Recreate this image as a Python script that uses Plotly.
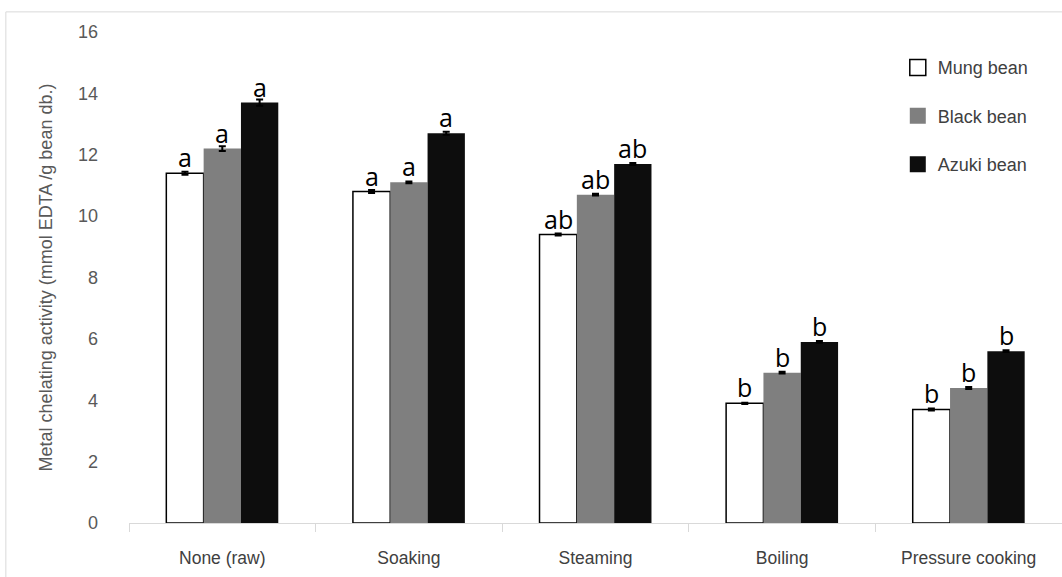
import plotly.graph_objects as go

categories = ["None (raw)", "Soaking", "Steaming", "Boiling", "Pressure cooking"]
series_names = ["Mung bean", "Black bean", "Azuki bean"]
mung = [11.4, 10.8, 9.4, 3.9, 3.7]
black = [12.2, 11.1, 10.7, 4.9, 4.4]
azuki = [13.7, 12.7, 11.7, 5.9, 5.6]
mung_err = [0.05, 0.05, 0.03, 0.02, 0.03]
black_err = [0.08, 0.03, 0.03, 0.03, 0.03]
azuki_err = [0.1, 0.05, 0.03, 0.03, 0.03]
mung_letters = ["a", "a", "ab", "b", "b"]
black_letters = ["a", "a", "ab", "b", "b"]
azuki_letters = ["a", "a", "ab", "b", "b"]

values = [mung, black, azuki]
errors = [mung_err, black_err, azuki_err]
letters = [mung_letters, black_letters, azuki_letters]
fills = ["#ffffff", "#7f7f7f", "#0d0d0d"]
lines = ["#000000", "#7f7f7f", "#0d0d0d"]
line_w = [1.5, 0, 0]

W, H = 1062, 577
ML, MR, MT, MB = 129, 0, 32, 54
BARGAP = 0.4
cat_px = (W - ML - MR) / len(categories)
bar_px = cat_px * (1 - BARGAP) / 3

fig = go.Figure()
annotations = []
for i in range(3):
    fig.add_trace(go.Bar(
        name=series_names[i], x=categories, y=values[i],
        marker=dict(color=fills[i], line=dict(color=lines[i], width=line_w[i])),
        error_y=dict(type="data", array=errors[i], color="#000000", thickness=2, width=3.5),
        showlegend=False, legendgroup=f"g{i}",
    ))
    for c, v, t in zip(categories, values[i], letters[i]):
        annotations.append(dict(
            x=c, y=v, xref="x", yref="y", text=t, showarrow=False,
            xanchor="center", yanchor="bottom",
            xshift=(i - 1) * bar_px, yshift=-3,
            font=dict(size=25, color="#000000", family="Open Sans"),
        ))

# legend-only entries with larger square swatches
for i in range(3):
    fig.add_trace(go.Scatter(
        name=series_names[i], x=[categories[0]], y=[None], mode="markers",
        marker=dict(symbol="square", size=16, color=fills[i],
                    line=dict(color=lines[i], width=line_w[i] if i == 0 else 0)),
        legendgroup=f"g{i}", showlegend=True, hoverinfo="skip",
    ))

fig.update_layout(
    width=W, height=H,
    margin=dict(l=ML, r=MR, t=MT, b=MB),
    paper_bgcolor="white", plot_bgcolor="white",
    barmode="group", bargap=BARGAP, bargroupgap=0,
    font=dict(family="Liberation Sans, Arial", color="#595959", size=14),
    showlegend=True,
    legend=dict(x=0.824, y=0.965, xanchor="left", yanchor="top",
                font=dict(size=18, color="#404040"), tracegroupgap=22,
                bgcolor="rgba(0,0,0,0)"),
    xaxis=dict(showline=True, linecolor="#d9d9d9", linewidth=1,
               ticks="outside", tickson="boundaries", ticklen=8, tickcolor="#d9d9d9",
               tickfont=dict(size=17.5, color="#404040"), ticklabelstandoff=19,
               showgrid=False),
    yaxis=dict(range=[0, 16], dtick=2, showgrid=False, showline=False, zeroline=False,
               ticks="", tickfont=dict(size=18, color="#595959"), ticklabelstandoff=30,
               title=dict(text="Metal chelating activity (mmol EDTA /g bean db.)",
                          font=dict(size=18, color="#595959"), standoff=20)),
    annotations=annotations,
    shapes=[dict(type="rect", xref="paper", yref="paper", x0=-0.132, x1=1.02,
                 y0=-0.3, y1=1.041, line=dict(color="#d9d9d9", width=1),
                 fillcolor="rgba(0,0,0,0)", layer="below")],
)

fig.write_html("out.html", config={"displayModeBar": False},
               post_script="document.body.style.margin='0';")
